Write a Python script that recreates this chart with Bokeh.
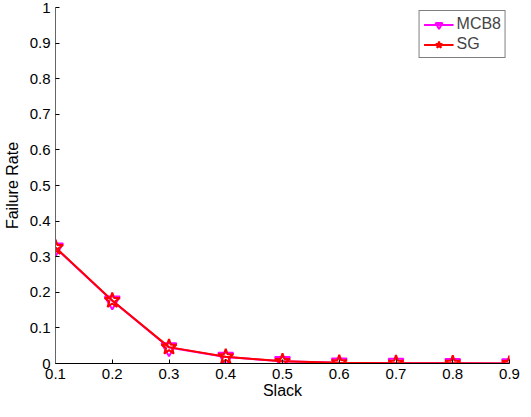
from bokeh.plotting import figure
from bokeh.models import Range1d, FixedTicker, Legend, LegendItem
from bokeh.embed import file_html
from bokeh.resources import INLINE

slack = [0.1, 0.2, 0.3, 0.4, 0.5, 0.6, 0.7, 0.8, 0.9]
mcb8 = [0.325, 0.176, 0.045, 0.018, 0.006, 0.002, 0.001, 0.0005, 0.0]
sg = [0.326, 0.177, 0.046, 0.019, 0.006, 0.002, 0.001, 0.0005, 0.0]
xticks = [0.1, 0.2, 0.3, 0.4, 0.5, 0.6, 0.7, 0.8, 0.9]
yticks = [0, 0.1, 0.2, 0.3, 0.4, 0.5, 0.6, 0.7, 0.8, 0.9, 1.0]

FONT = "Liberation Sans"

p = figure(width=521, height=401, output_backend="svg", toolbar_location=None,
           x_range=Range1d(0.1, 0.9), y_range=Range1d(0, 1),
           min_border_left=51, min_border_right=12, min_border_top=7, min_border_bottom=35)
p.outline_line_color = None
p.xgrid.visible = False
p.ygrid.visible = False

for ax in (p.xaxis[0], p.yaxis[0]):
    ax.major_tick_in = 4
    ax.major_tick_out = 0
    ax.minor_tick_line_color = None
    ax.axis_line_color = "black"
    ax.major_tick_line_color = "black"
    ax.major_label_text_font = FONT
    ax.major_label_text_font_size = "15px"
    ax.major_label_text_color = "black"
    ax.axis_label_text_font = FONT
    ax.axis_label_text_font_size = "16px"
    ax.axis_label_text_font_style = "normal"
    ax.axis_label_text_color = "black"
p.yaxis[0].axis_line_color = "#666666"

p.xaxis.ticker = FixedTicker(ticks=xticks)
p.yaxis.ticker = FixedTicker(ticks=yticks)
p.xaxis.major_label_overrides = {v: ("%g" % v) for v in xticks}
p.yaxis.major_label_overrides = {v: ("%g" % v) for v in yticks}
p.xaxis.axis_label = "Slack"
p.yaxis.axis_label = "Failure Rate"
p.xaxis.major_label_standoff = 5
p.xaxis.axis_label_standoff = 0
p.yaxis.major_label_standoff = 5
p.yaxis.axis_label_standoff = 6

l1 = p.line(slack, mcb8, line_color="magenta", line_width=2)
m1 = p.scatter(slack, mcb8, marker="inverted_triangle", size=15, line_color="magenta",
               fill_color=None, line_width=2)
l2 = p.line(slack, sg, line_color="red", line_width=2)
m2 = p.scatter(slack, sg, marker="star", size=16, line_color="red",
               fill_color=None, line_width=2)

legend = Legend(items=[LegendItem(label="MCB8", renderers=[l1, m1]),
                       LegendItem(label="SG", renderers=[l2, m2])],
                location="top_right", margin=3, padding=4, spacing=2,
                label_text_font=FONT, label_text_font_size="16px",
                label_height=17, glyph_height=17, glyph_width=30,
                label_standoff=3,
                border_line_color="black", border_line_width=1)
p.add_layout(legend)

open("out.html", "w").write(file_html(p, INLINE))
